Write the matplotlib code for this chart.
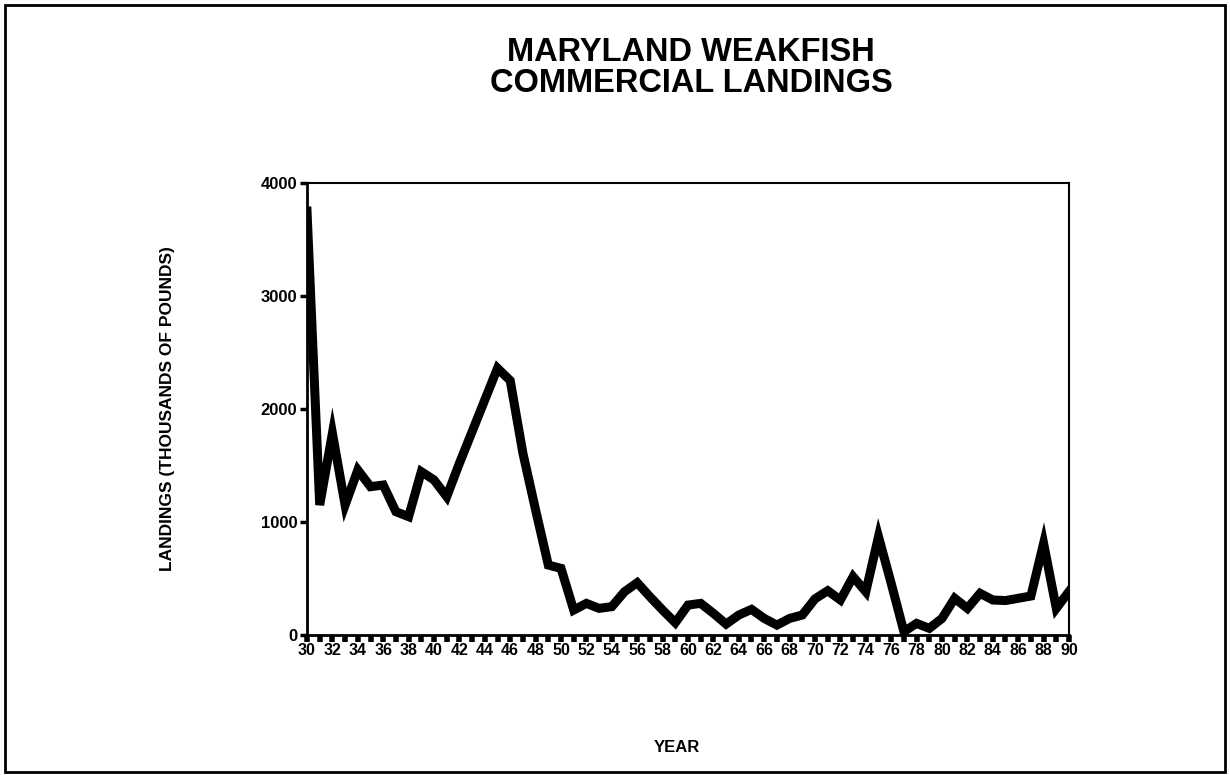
import matplotlib.pyplot as plt
from matplotlib.patches import Rectangle
from matplotlib.ticker import MultipleLocator

# Maryland weakfish commercial landings, thousands of pounds
years = list(range(1930, 1991))
landings = [3750, 1150, 1785, 1150, 1460, 1312, 1327, 1091, 1047, 1445,
            1372, 1224, 1519, 1799, 2080, 2360, 2251, 1608, 1106, 619,
            590, 221, 280, 236, 251, 383, 463, 339, 221, 109,
            265, 280, 192, 97, 177, 227, 147, 88, 147, 177,
            320, 392, 310, 516, 383, 870, 457, 30, 103, 59,
            147, 325, 236, 369, 310, 305, 325, 345, 811, 236,
            385]

tick_years = list(range(1930, 1991, 2))
tick_labels = [str(y % 100) for y in tick_years]

plt.rcParams['font.family'] = ['Liberation Sans', 'DejaVu Sans']

fig = plt.figure(figsize=(12.3, 7.75), dpi=100)
ax = fig.add_axes([0.2496, 0.1806, 0.6195, 0.5835])

ax.plot(years, landings, color='black', linewidth=6.5, solid_joinstyle='miter')

ax.set_xlim(1930, 1990)
ax.set_ylim(0, 4000)
ax.set_xticks(tick_years)
ax.set_xticklabels(tick_labels, fontsize=11.5, fontweight='bold')
ax.xaxis.set_minor_locator(MultipleLocator(1))
ax.tick_params(axis='x', which='both', direction='out', length=5, width=4, pad=1)
ax.set_yticks([0, 1000, 2000, 3000, 4000])
ax.set_yticklabels(['0', '1000', '2000', '3000', '4000'], fontsize=12, fontweight='bold')
ax.tick_params(axis='y', direction='out', length=5, width=2.5, pad=2)

for side in ['left', 'bottom']:
    ax.spines[side].set_linewidth(2)
for side in ['top', 'right']:
    ax.spines[side].set_linewidth(1.5)

ax.set_ylabel('LANDINGS (THOUSANDS OF POUNDS)', fontsize=12.5, fontweight='bold', labelpad=62)
fig.text(0.55, 0.035, 'YEAR', ha='center', va='center', fontsize=12, fontweight='bold')

# title centred over the plot area
fig.text(0.562, 0.912, 'MARYLAND WEAKFISH\nCOMMERCIAL LANDINGS', ha='center', va='center',
         fontsize=23.5, fontweight='bold', linespacing=1.02)

# outer border around the whole page
fig.patches.append(Rectangle((0.004, 0.004), 0.992, 0.99, transform=fig.transFigure,
                             fill=False, edgecolor='black', linewidth=2))

fig.savefig('out.png', dpi=100)
